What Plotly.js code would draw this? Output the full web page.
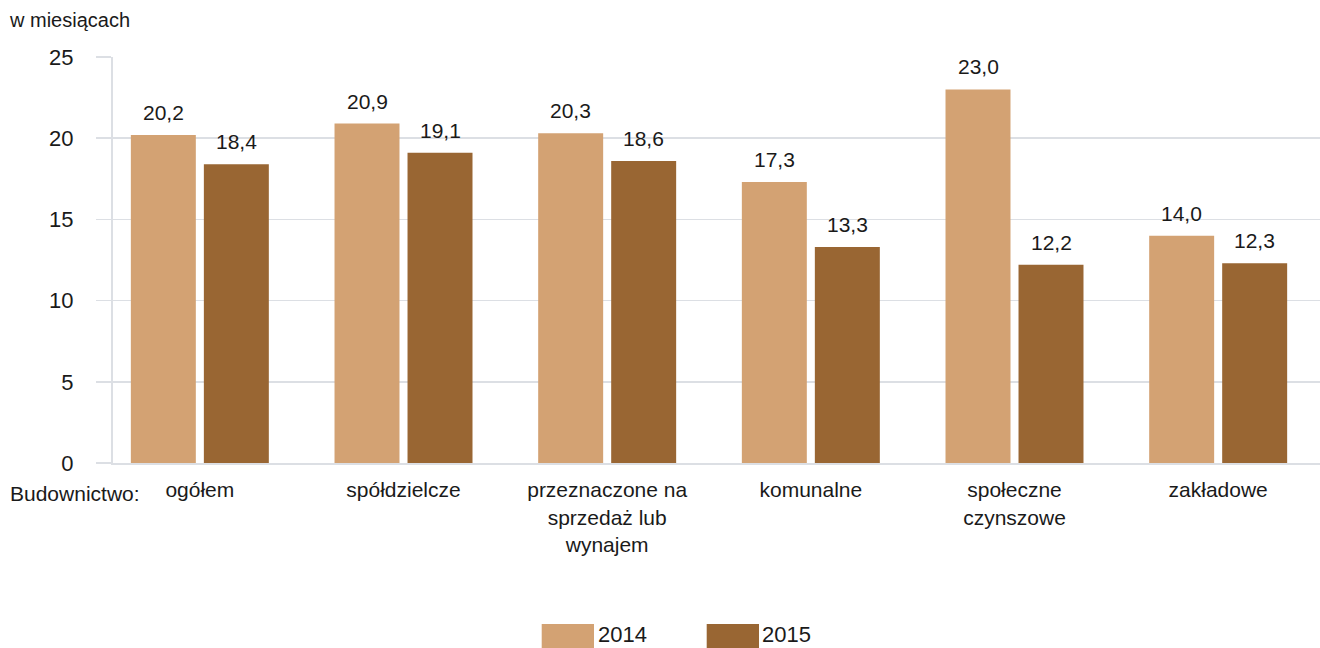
<!DOCTYPE html>
<html>
<head>
<meta charset="utf-8">
<script src="https://cdn.plot.ly/plotly-3.0.1.min.js"></script>
<style>html,body{margin:0;padding:0;background:#fff;}#chart{width:1320px;height:648px;}</style>
</head>
<body>
<div id="chart"></div>
<script>
const categories = ['ogółem', 'spółdzielcze', 'przeznaczone na<br>sprzedaż lub<br>wynajem', 'komunalne', 'społeczne<br>czynszowe', 'zakładowe'];
const values2014 = [20.2, 20.9, 20.3, 17.3, 23.0, 14.0];
const values2015 = [18.4, 19.1, 18.6, 13.3, 12.2, 12.3];
const seriesNames = ['2014', '2015'];
const colors = ['#D3A273', '#996633'];
const yTicks = [0, 5, 10, 15, 20, 25];

const FONT = 'Liberation Sans, Arial, sans-serif';
const TXT = '#1a1a1a';
const GRID = '#dcdfe4';

const W = 1320, H = 648;
const M = {l: 113, r: 0, t: 57, b: 185};
const PW = W - M.l - M.r, PH = H - M.t - M.b;
const px = x => (x - M.l) / PW;
const py = y => (H - M.b - y) / PH;

const fmt = v => v.toFixed(1).replace('.', ',');

const traces = [values2014, values2015].map((vals, i) => ({
  type: 'bar',
  name: seriesNames[i],
  x: categories,
  y: vals,
  marker: {color: colors[i]},
  hoverinfo: 'x+y'
}));

const annotations = [];
[values2014, values2015].forEach((vals, i) => {
  vals.forEach((v, j) => {
    annotations.push({
      x: categories[j], y: v, xref: 'x', yref: 'y',
      text: fmt(v), showarrow: false,
      xanchor: 'center', yanchor: 'bottom',
      xshift: i === 0 ? -36.5 : 36.5, yshift: 9,
      font: {family: FONT, size: 21, color: TXT}
    });
  });
});
annotations.push({
  xref: 'paper', yref: 'paper', x: px(7), y: py(20), xanchor: 'left', yanchor: 'middle',
  text: 'w miesiącach', showarrow: false, font: {family: FONT, size: 20, color: TXT}
});
annotations.push({
  xref: 'paper', yref: 'paper', x: px(8), y: py(493), xanchor: 'left', yanchor: 'middle',
  text: 'Budownictwo:', showarrow: false, font: {family: FONT, size: 21, color: TXT}
});
// legend
const legendItems = [{x0: 541.7, x1: 594, tx: 596}, {x0: 706.7, x1: 759, tx: 760}];
const shapes = [];
legendItems.forEach((it, i) => {
  shapes.push({type: 'rect', xref: 'paper', yref: 'paper', x0: px(it.x0), x1: px(it.x1), y0: py(650), y1: py(624), fillcolor: colors[i], line: {width: 0}});
  annotations.push({xref: 'paper', yref: 'paper', x: px(it.tx), y: py(634), xanchor: 'left', yanchor: 'middle', text: seriesNames[i], showarrow: false, font: {family: FONT, size: 22, color: TXT}});
});

const layout = {
  width: W, height: H,
  margin: M,
  paper_bgcolor: '#fff', plot_bgcolor: '#fff',
  barmode: 'group', bargap: 0.2831, bargroupgap: 0.11,
  showlegend: false,
  font: {family: FONT, color: TXT},
  xaxis: {
    range: [-0.4264, 5.5],
    showgrid: false, zeroline: false,
    showline: true, linecolor: GRID, linewidth: 2,
    ticks: '', ticklabelstandoff: 7,
    tickfont: {family: FONT, size: 21, color: TXT},
    fixedrange: true
  },
  yaxis: {
    range: [0, 25],
    tickvals: yTicks,
    showgrid: true, gridcolor: GRID, gridwidth: 1.5,
    zeroline: false,
    showline: true, linecolor: GRID, linewidth: 2,
    ticks: 'outside', ticklen: 15, tickcolor: GRID, tickwidth: 1.5,
    ticklabelstandoff: 18,
    tickfont: {family: FONT, size: 22, color: TXT},
    fixedrange: true
  },
  annotations: annotations,
  shapes: shapes
};

Plotly.newPlot('chart', traces, layout, {displayModeBar: false, staticPlot: true});
</script>
</body>
</html>
